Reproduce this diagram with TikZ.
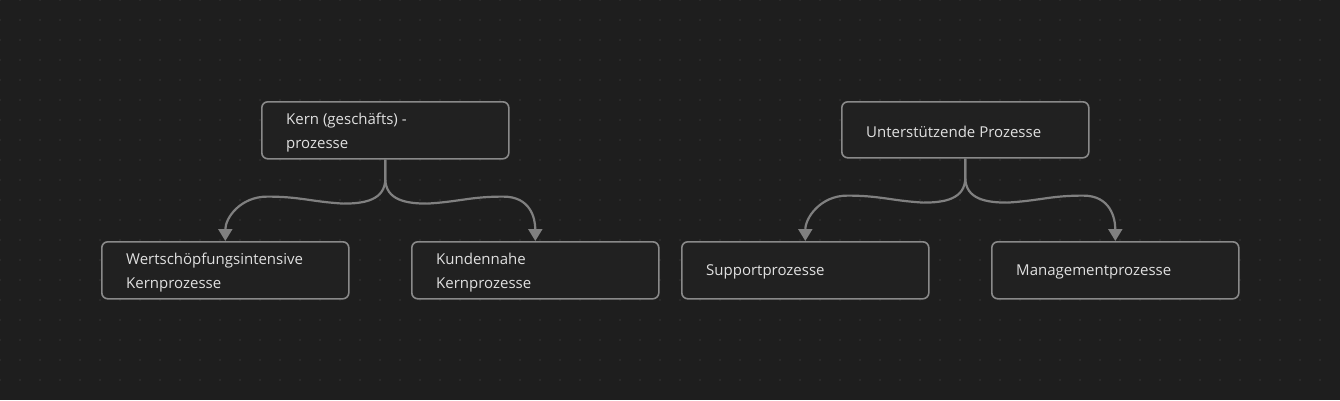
\documentclass[tikz,border=0pt]{standalone}
\usepackage{fontspec}
\setmainfont{Open Sans}
\usetikzlibrary{arrows.meta}
\definecolor{bg}{HTML}{1E1E1E}
\definecolor{boxfill}{HTML}{212121}
\definecolor{boxline}{HTML}{8A8A8A}
\definecolor{txt}{HTML}{E0E0E0}
\definecolor{conn}{HTML}{808080}
\definecolor{dotc}{HTML}{353535}
\tikzset{
  procbox/.style={draw=boxline, line width=1.6pt, fill=boxfill, rounded corners=6pt,
    minimum width=247pt, minimum height=57pt, inner sep=0pt, anchor=north west},
  boxtext/.style={text=txt, font=\fontsize{15}{24}\selectfont, align=left, anchor=west, inner sep=0pt},
  conline/.style={draw=conn, line width=2.2pt, -{Triangle[width=14pt,length=12pt]}}
}
\begin{document}
\begin{tikzpicture}[x=1pt,y=-1pt]
\fill[bg] (0,0) rectangle (1340,400);
\useasboundingbox (0,0) rectangle (1340,400);
\foreach \i in {0,...,66}{\foreach \j in {0,...,19}{\fill[dotc] (\i*20,\j*20) circle (0.8pt);}}
% boxes
\node[procbox] (kern) at (261,101) {};
\node[procbox] (wert) at (101,241) {};
\node[procbox] (kund) at (411,241) {};
\node[procbox, minimum height=56pt] (unter) at (841,101) {};
\node[procbox] (supp) at (681,241) {};
\node[procbox] (mgmt) at (991,241) {};
% texts
\node[boxtext] (tkern) at (286,133) {Kern (geschäfts) -\\prozesse};
\node[boxtext] (twert) at (126,273) {Wertschöpfungsintensive\\Kernprozesse};
\node[boxtext] (tkund) at (436,273) {Kundennahe\\Kernprozesse};
\node[boxtext] (tunter) at (866,131.5) {Unterstützende Prozesse};
\node[boxtext] (tsupp) at (706,271.5) {Supportprozesse};
\node[boxtext] (tmgmt) at (1016,271.5) {Managementprozesse};
% connectors
\coordinate (k0) at (kern.south);
\draw[conline] (k0) -- ++(0,19) .. controls ++(0,22) and ++(20,0) .. ++(-42,25) .. controls ++(-33,-2) and ++(33,0) .. ++(-76,-7) .. controls ++(-27,0) and ++(0,-23) .. (wert.north);
\draw[conline] (k0) -- ++(0,19) .. controls ++(0,22) and ++(-20,0) .. ++(42,25) .. controls ++(33,-2) and ++(-33,0) .. ++(76,-7) .. controls ++(27,0) and ++(0,-23) .. (kund.north);
\coordinate (u0) at (unter.south);
\draw[conline] (u0) -- ++(0,19) .. controls ++(0,22) and ++(20,0) .. ++(-42,25) .. controls ++(-33,-2) and ++(33,0) .. ++(-76,-7) .. controls ++(-27,0) and ++(0,-23) .. (supp.north);
\draw[conline] (u0) -- ++(0,19) .. controls ++(0,22) and ++(-20,0) .. ++(42,25) .. controls ++(33,-2) and ++(-33,0) .. ++(76,-7) .. controls ++(27,0) and ++(0,-23) .. (mgmt.north);
\end{tikzpicture}
\end{document}
